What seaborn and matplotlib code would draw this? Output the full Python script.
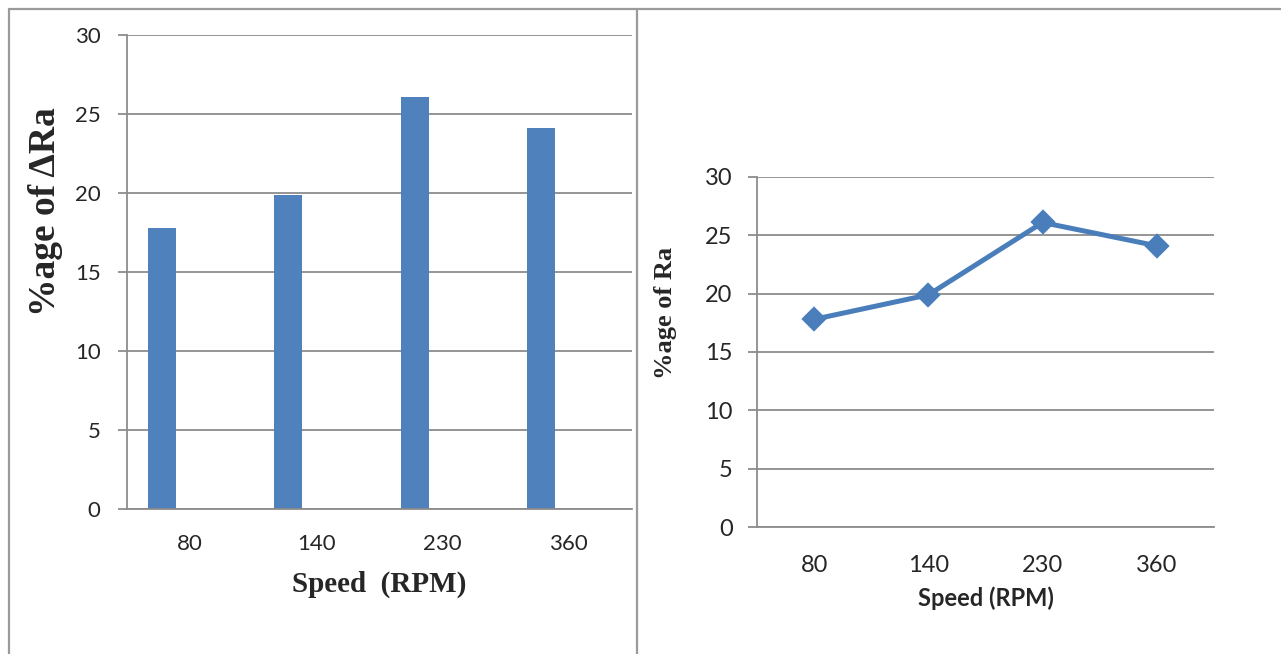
import pandas as pd
import matplotlib.pyplot as plt
from matplotlib.lines import Line2D
from matplotlib.ticker import FixedLocator
import seaborn as sns

speeds = ['80', '140', '230', '360']
delta_ra = [17.8, 19.9, 26.1, 24.1]   # left, bars
ra_pct = [17.8, 19.9, 26.1, 24.1]     # right, line
yticks = [0, 5, 10, 15, 20, 25, 30]

BAR = '#4F81BD'
LINE = '#4A7EBB'
GRID = '#8C8C8C'
TICKFONT = ['Lato', 'DejaVu Sans']
SERIF = ['Liberation Serif', 'DejaVu Serif']

sns.set_style('white')

fig = plt.figure(figsize=(12.81, 6.54), dpi=100)
fig.set_facecolor('white')


def style_axes(ax, fsize, xpad, ypad):
    ax.set_xlim(-0.5, 3.5)
    ax.set_ylim(0, 30)
    ax.set_yticks(yticks)
    ax.set_yticklabels([str(t) for t in yticks], family=TICKFONT, fontsize=fsize)
    ax.set_xticks(range(len(speeds)))
    ax.set_xticklabels(speeds, family=TICKFONT, fontsize=fsize)
    ax.xaxis.set_minor_locator(FixedLocator([-0.5, 0.5, 1.5, 2.5, 3.5]))
    ax.tick_params(axis='x', which='major', length=0, pad=xpad)
    ax.tick_params(axis='x', which='minor', length=6.5, width=1.3, color=GRID, direction='out')
    ax.tick_params(axis='y', length=6.5, width=1.3, color=GRID, direction='out', pad=ypad, left=True)
    ax.yaxis.grid(True, color=GRID, linewidth=1.3)
    ax.xaxis.grid(False)
    ax.set_axisbelow(True)
    for s in ['top', 'right']:
        ax.spines[s].set_visible(False)
    for s in ['left', 'bottom']:
        ax.spines[s].set_visible(True)
        ax.spines[s].set_color(GRID)
        ax.spines[s].set_linewidth(1.3)
    ax.spines['bottom'].set_zorder(5)


# ---- left: bar chart ----
ax1 = fig.add_axes([127/1281, 1 - 509/654, 505/1281, 474/654])
df1 = pd.DataFrame({'speed': speeds, 'val': delta_ra, 'series': 's1'})
sns.barplot(data=df1, x='speed', y='val', hue='series', hue_order=['s1', 's2', 's3'],
            order=speeds, dodge=True, width=0.667, palette=[BAR, BAR, BAR],
            linewidth=0, saturation=1, legend=False, ax=ax1)
style_axes(ax1, 16, 18, 12.5)
ax1.set_xlabel('Speed  (RPM)', family=SERIF, fontweight='bold', fontsize=21, labelpad=12)
ax1.set_ylabel('%age of ΔRa', family=SERIF, fontweight='bold', fontsize=27)
ax1.yaxis.set_label_coords(-0.127, 0.627)

# ---- right: line chart ----
ax2 = fig.add_axes([757/1281, 1 - 527/654, 457/1281, 350/654])
df2 = pd.DataFrame({'speed': speeds, 'val': ra_pct})
sns.pointplot(data=df2, x='speed', y='val', order=speeds, color=LINE, marker='D',
              markersize=10, linewidth=3.6, errorbar=None, ax=ax2)
style_axes(ax2, 17, 20, 11)
ax2.set_xlabel('Speed (RPM)', family=TICKFONT, fontweight='bold', fontsize=17, labelpad=8)
ax2.set_ylabel('%age of Ra', family=SERIF, fontweight='bold', fontsize=19)
ax2.yaxis.set_label_coords(-0.175, 0.611)

# table borders around the two figures
bc = '#9A9A9A'
fig.add_artist(Line2D([9/1281, 9/1281], [0, 1 - 9/654], color=bc, lw=1.6, transform=fig.transFigure))
fig.add_artist(Line2D([637/1281, 637/1281], [0, 1 - 9/654], color=bc, lw=1.6, transform=fig.transFigure))
fig.add_artist(Line2D([9/1281, 1], [1 - 9/654, 1 - 9/654], color=bc, lw=1.6, transform=fig.transFigure))

fig.savefig('out.png', dpi=100)
